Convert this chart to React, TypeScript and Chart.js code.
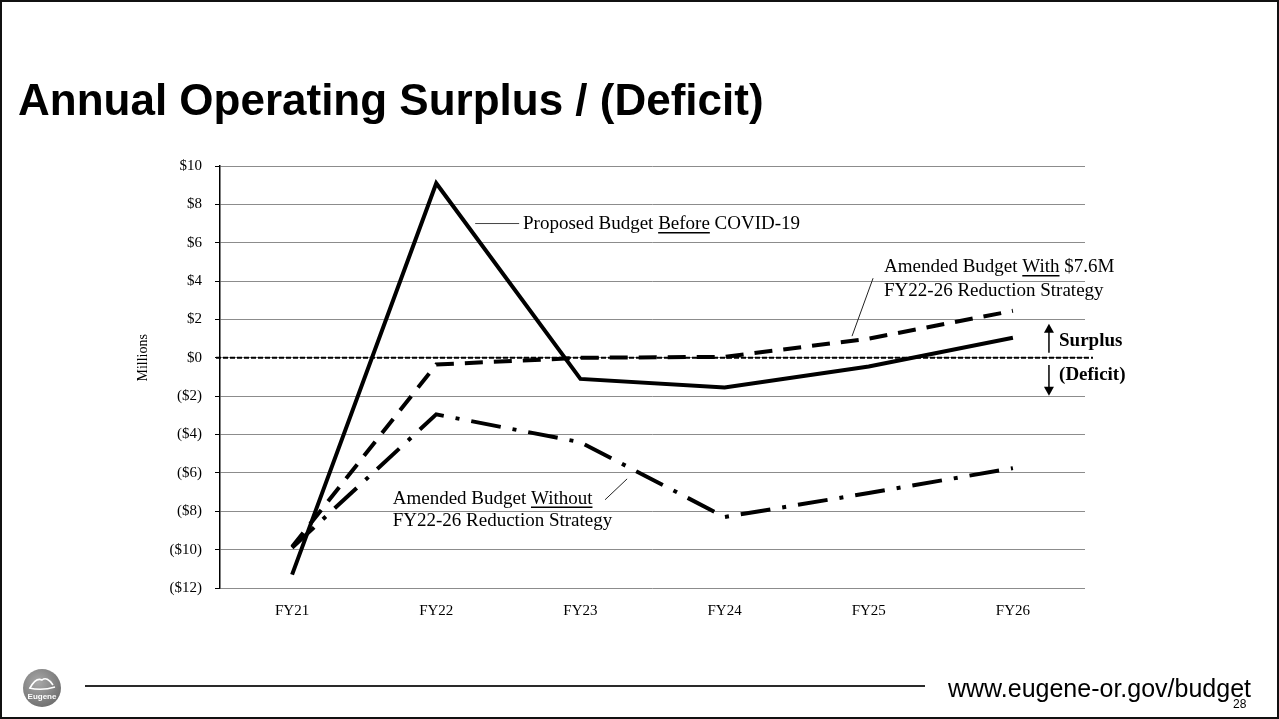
import React, { useEffect, useRef } from 'react';
import { Chart, registerables } from 'chart.js';

Chart.register(...registerables);

// ---- data ----
const categories = ['FY21', 'FY22', 'FY23', 'FY24', 'FY25', 'FY26'];
const proposedBeforeCovid = [-11.3, 9.1, -1.1, -1.55, -0.45, 1.05];
const amendedWithReduction = [-9.85, -0.35, 0.0, 0.05, 1.0, 2.45];
const amendedWithoutReduction = [-9.9, -2.95, -4.4, -8.3, -7.05, -5.75];
const seriesNames = [
  'Proposed Budget Before COVID-19',
  'Amended Budget With $7.6M FY22-26 Reduction Strategy',
  'Amended Budget Without FY22-26 Reduction Strategy',
];
const yMin = -12;
const yMax = 10;
const yStep = 2;
const yAxisTitle = 'Millions';
const slideTitle = 'Annual Operating Surplus / (Deficit)';
const footerUrl = 'www.eugene-or.gov/budget';
const slideNumber = '28';

const SERIF = '"Liberation Serif", "Times New Roman", serif';
const SANS = '"Liberation Sans", Arial, sans-serif';

const formatMoney = (v: number) => (v < 0 ? `($${-v})` : `$${v}`);

type Part = { text: string; underline?: boolean };

function drawParts(ctx: CanvasRenderingContext2D, parts: Part[], left: number, cy: number, size: number, bold = false) {
  ctx.font = `${bold ? 'bold ' : ''}${size}px ${SERIF}`;
  ctx.textAlign = 'left';
  ctx.textBaseline = 'middle';
  ctx.fillStyle = '#000';
  let x = left;
  for (const p of parts) {
    const w = ctx.measureText(p.text).width;
    ctx.fillText(p.text, x, cy);
    if (p.underline) {
      ctx.save();
      ctx.strokeStyle = '#000';
      ctx.lineWidth = 1.5;
      ctx.beginPath();
      ctx.moveTo(x, cy + size * 0.45);
      ctx.lineTo(x + w, cy + size * 0.45);
      ctx.stroke();
      ctx.restore();
    }
    x += w;
  }
}

function line(ctx: CanvasRenderingContext2D, x1: number, y1: number, x2: number, y2: number, w = 1, color = '#000') {
  ctx.save();
  ctx.strokeStyle = color;
  ctx.lineWidth = w;
  ctx.setLineDash([]);
  ctx.beginPath();
  ctx.moveTo(x1, y1);
  ctx.lineTo(x2, y2);
  ctx.stroke();
  ctx.restore();
}

function arrow(ctx: CanvasRenderingContext2D, x: number, yFrom: number, yTip: number) {
  const dir = yTip < yFrom ? -1 : 1;
  line(ctx, x, yFrom, x, yTip - dir * 6, 1.5);
  ctx.save();
  ctx.fillStyle = '#000';
  ctx.beginPath();
  ctx.moveTo(x, yTip);
  ctx.lineTo(x - 5, yTip - dir * 9);
  ctx.lineTo(x + 5, yTip - dir * 9);
  ctx.closePath();
  ctx.fill();
  ctx.restore();
}

const annotationPlugin = {
  id: 'slideAnnotations',
  beforeDatasetsDraw(chart: any) {
    const { ctx, chartArea, scales } = chart;
    const y0 = scales.y.getPixelForValue(0);
    ctx.save();
    ctx.strokeStyle = '#000';
    ctx.lineWidth = 2;
    ctx.setLineDash([5, 2]);
    ctx.beginPath();
    ctx.moveTo(chartArea.left - 4, y0);
    ctx.lineTo(chartArea.right + 8, y0);
    ctx.stroke();
    ctx.restore();
  },
  afterDatasetsDraw(chart: any) {
    const { ctx, scales } = chart;
    const xs = scales.x;
    const ys = scales.y;
    const x0 = xs.getPixelForValue(0);
    const step = xs.getPixelForValue(1) - x0;
    const px = (i: number) => x0 + i * step;
    const py = (v: number) => ys.getPixelForValue(v);
    ctx.save();

    // Proposed Budget Before COVID-19
    line(ctx, px(1.27), py(7.0), px(1.575), py(7.0), 1, '#444');
    drawParts(ctx, [{ text: 'Proposed Budget ' }, { text: 'Before', underline: true }, { text: ' COVID-19' }], px(1.602), py(6.97), 19);

    // Amended With
    line(ctx, px(4.03), py(4.15), px(3.884), py(1.13), 1, '#222');
    drawParts(ctx, [{ text: 'Amended Budget ' }, { text: 'With', underline: true }, { text: ' $7.6M' }], px(4.106), py(4.73), 19);
    drawParts(ctx, [{ text: 'FY22-26 Reduction Strategy' }], px(4.106), py(3.49), 19);

    // Amended Without
    line(ctx, px(2.171), py(-7.4), px(2.324), py(-6.31), 1, '#222');
    drawParts(ctx, [{ text: 'Amended Budget ' }, { text: 'Without', underline: true }], px(0.698), py(-7.35), 19);
    drawParts(ctx, [{ text: 'FY22-26 Reduction Strategy' }], px(0.698), py(-8.53), 19);

    // Surplus / Deficit arrows
    arrow(ctx, px(5.25), py(0.27), py(1.78));
    arrow(ctx, px(5.25), py(-0.38), py(-1.98));
    drawParts(ctx, [{ text: 'Surplus' }], px(5.32), py(0.88), 19, true);
    drawParts(ctx, [{ text: '(Deficit)' }], px(5.32), py(-0.9), 19, true);

    // Axis title
    ctx.save();
    ctx.translate(143, py(0));
    ctx.rotate(-Math.PI / 2);
    ctx.font = `14px ${SERIF}`;
    ctx.textAlign = 'center';
    ctx.textBaseline = 'middle';
    ctx.fillStyle = '#000';
    ctx.fillText(yAxisTitle, 0, 0);
    ctx.restore();

    ctx.restore();
  },
};

function EugeneLogo() {
  return (
    <svg width="40" height="40" viewBox="0 0 40 40" style={{ position: 'absolute', left: 22, top: 668 }}>
      <defs>
        <radialGradient id="lg" cx="40%" cy="35%" r="70%">
          <stop offset="0%" stopColor="#a8a8a8" />
          <stop offset="100%" stopColor="#6e6e6e" />
        </radialGradient>
      </defs>
      <circle cx="20" cy="20" r="19" fill="url(#lg)" />
      <path d="M8 20 Q14 9 20 12 Q25 8 31 17" stroke="#fff" strokeWidth="1.6" fill="none" />
      <path d="M7 20 Q20 23 33 19" stroke="#fff" strokeWidth="1.4" fill="none" />
      <text x="20" y="31" textAnchor="middle" fontFamily={SANS} fontSize="8" fontWeight="bold" fill="#fff">Eugene</text>
    </svg>
  );
}

export default function App() {
  const canvasRef = useRef<HTMLCanvasElement | null>(null);

  useEffect(() => {
    const canvas = canvasRef.current;
    if (!canvas) return;
    const chart = new Chart(canvas, {
      type: 'line',
      data: {
        labels: categories,
        datasets: [
          {
            label: seriesNames[0],
            data: proposedBeforeCovid,
            borderColor: '#000',
            borderWidth: 4,
            pointRadius: 0,
            tension: 0,
            borderJoinStyle: 'miter',
            fill: false,
          },
          {
            label: seriesNames[1],
            data: amendedWithReduction,
            borderColor: '#000',
            borderWidth: 4,
            borderDash: [18, 11],
            pointRadius: 0,
            tension: 0,
            fill: false,
          },
          {
            label: seriesNames[2],
            data: amendedWithoutReduction,
            borderColor: '#000',
            borderWidth: 4,
            borderDash: [30, 12, 4, 12],
            pointRadius: 0,
            tension: 0,
            fill: false,
          },
        ],
      },
      options: {
        animation: false,
        responsive: false,
        devicePixelRatio: 1,
        layout: { padding: { left: 120, top: 166, right: 194, bottom: 91 } },
        plugins: {
          legend: { display: false },
          tooltip: { enabled: false },
        },
        scales: {
          x: {
            type: 'category',
            offset: true,
            grid: { display: false, drawTicks: false },
            border: { display: false },
            ticks: {
              color: '#000',
              font: { family: SERIF, size: 15 },
              padding: 14,
              maxRotation: 0,
            },
            afterFit: (s: any) => {
              s.height = 40;
            },
          },
          y: {
            min: yMin,
            max: yMax,
            ticks: {
              stepSize: yStep,
              color: '#000',
              font: { family: SERIF, size: 15 },
              padding: 13,
              callback: (v: any) => formatMoney(Number(v)),
            },
            grid: {
              color: '#8c8c8c',
              lineWidth: 1,
              tickColor: '#000',
              tickLength: 5,
            },
            border: { color: '#000', width: 1.5 },
            afterFit: (s: any) => {
              s.width = 100;
            },
          },
        },
      },
      plugins: [annotationPlugin],
    });
    return () => chart.destroy();
  }, []);

  return (
    <div style={{ position: 'relative', width: 1279, height: 719, background: '#fff', overflow: 'hidden' }}>
      <style>{`body{margin:0;}`}</style>
      <canvas ref={canvasRef} width={1279} height={719} style={{ position: 'absolute', left: 0, top: 0 }} />
      <div
        style={{
          position: 'absolute',
          left: 18,
          top: 78,
          fontFamily: SANS,
          fontWeight: 'bold',
          fontSize: 44,
          lineHeight: '44px',
          color: '#000',
          whiteSpace: 'nowrap',
        }}
      >
        {slideTitle}
      </div>
      <EugeneLogo />
      <div style={{ position: 'absolute', left: 85, top: 685, width: 840, height: 2, background: '#2a2a2a' }} />
      <div
        style={{
          position: 'absolute',
          left: 948,
          top: 676,
          fontFamily: SANS,
          fontSize: 25,
          lineHeight: '25px',
          color: '#000',
          whiteSpace: 'nowrap',
        }}
      >
        {footerUrl}
      </div>
      <div
        style={{
          position: 'absolute',
          left: 1233,
          top: 698,
          fontFamily: SANS,
          fontSize: 12,
          lineHeight: '12px',
          color: '#000',
        }}
      >
        {slideNumber}
      </div>
      <div
        style={{
          position: 'absolute',
          left: 0,
          top: 0,
          width: 1279,
          height: 719,
          boxSizing: 'border-box',
          border: '2px solid #111',
          pointerEvents: 'none',
        }}
      />
    </div>
  );
}
